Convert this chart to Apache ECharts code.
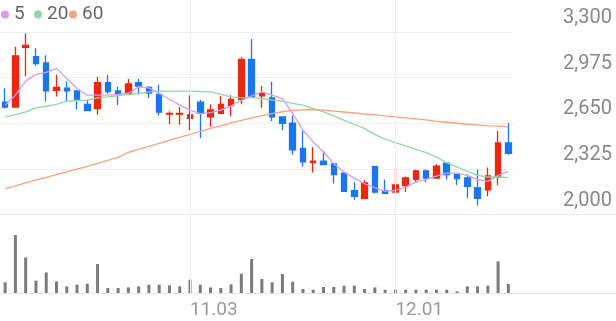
<!DOCTYPE html>
<html>
<head>
<meta charset="utf-8">
<script src="https://cdn.jsdelivr.net/npm/echarts@6/dist/echarts.min.js"></script>
<style>
html,body{margin:0;padding:0;background:#fff;}
#c{width:616px;height:321px;}
</style>
</head>
<body>
<div id="c"></div>
<script>
// ---- data ----
const dates = ['10.01','10.02','10.10','10.13','10.14','10.15','10.16','10.17','10.20','10.21',
  '10.22','10.23','10.24','10.27','10.28','10.29','10.30','10.31','11.03','11.04',
  '11.05','11.06','11.07','11.10','11.11','11.12','11.13','11.14','11.17','11.18',
  '11.19','11.20','11.21','11.24','11.25','11.26','11.27','11.28','12.01','12.02',
  '12.03','12.04','12.05','12.08','12.09','12.10','12.11','12.12','12.15','12.16'];
const shownDates = ['11.03','12.01'];
const openP  = [2800,2765,3190,3125,3080,2885,2900,2880,2785,2755,2940,2880,2860,2940,2905,2855,2715,2715,2685,2800,2695,2720,2775,2820,3105,2845,2830,2695,2650,2470,2370,2380,2360,2295,2170,2115,2340,2170,2160,2205,2250,2310,2260,2365,2285,2260,2190,2175,2265,2510];
const closeP = [2765,3130,3205,3075,2880,2905,2880,2815,2740,2940,2875,2860,2930,2915,2865,2730,2720,2720,2710,2720,2745,2785,2820,3105,2840,2860,2695,2650,2460,2375,2380,2355,2285,2165,2130,2225,2160,2150,2210,2260,2310,2260,2345,2285,2255,2200,2115,2275,2510,2435];
const lowP   = [2755,2765,2985,3060,2805,2840,2805,2750,2735,2710,2860,2780,2850,2855,2830,2705,2645,2640,2600,2545,2625,2715,2700,2785,2835,2760,2665,2600,2425,2340,2300,2350,2220,2160,2105,2115,2150,2150,2160,2160,2225,2230,2255,2250,2210,2115,2065,2130,2210,2425];
const highP  = [2900,3195,3290,3185,3135,2995,2950,2885,2820,2980,2995,2910,2965,2965,2915,2925,2735,2765,2850,2815,2785,2845,2850,3120,3250,2915,2945,2700,2705,2595,2480,2455,2365,2300,2230,2245,2345,2250,2330,2270,2320,2320,2360,2370,2290,2285,2320,2335,2595,2650];
const ma5  = [2779,2850,2950,2998,3012,3041,2969,2898,2850,2850,2850,2855,2864,2909,2902,2862,2821,2779,2743,2719,2726,2743,2774,2814,2845,2874,2850,2826,2719,2600,2517,2445,2362,2302,2259,2219,2191,2164,2171,2195,2231,2250,2274,2295,2295,2279,2250,2236,2279,2307];
const ma20 = [2695,2712,2731,2759,2771,2784,2807,2812,2814,2831,2838,2845,2855,2862,2874,2879,2879,2879,2879,2876,2874,2855,2838,2833,2833,2826,2814,2807,2791,2779,2755,2731,2702,2671,2643,2612,2571,2536,2512,2488,2464,2441,2409,2369,2338,2307,2279,2267,2267,2262];
const ma60 = [2184,2204,2225,2246,2264,2284,2304,2324,2343,2364,2386,2407,2443,2464,2486,2507,2529,2550,2571,2593,2614,2632,2652,2671,2689,2704,2719,2732,2741,2745,2748,2744,2737,2730,2723,2716,2710,2702,2695,2688,2681,2674,2664,2657,2650,2643,2638,2631,2629,2624];
const volume = [321,1740,1068,369,618,348,198,249,279,870,150,150,168,198,249,249,228,198,399,249,168,150,258,579,1020,420,321,570,339,120,99,180,180,219,219,120,168,99,99,99,99,99,99,99,51,198,198,219,951,270];
const priceTicks = {min: 2000, max: 3300, step: 325};
const maNames = ['5','20','60'];

// ---- chart ----
const RED = '#e8290c', BLUE = '#1a76ec';
const maColors = ['#d49cf2','#92d8a6','#fba27f'];
const legendLeft = [1, 34, 69];
const ohlc = dates.map((d, i) => [openP[i], closeP[i], lowP[i], highP[i]]);

const chart = echarts.init(document.getElementById('c'), null, {renderer: 'canvas'});
const plotGrid = {left: 0, right: 102.5, top: 32, height: 182.5};
const volGrid = {left: 0, right: 102.5, top: 230, bottom: 28};

const option = {
  animation: false,
  backgroundColor: '#fff',
  textStyle: {fontFamily: 'Roboto'},
  legend: maNames.map((n, k) => ({
    data: [n], left: legendLeft[k], top: 5, padding: 0, icon: 'circle', itemWidth: 8, itemHeight: 8,
    textStyle: {fontSize: 19, color: '#666', fontFamily: 'Roboto'}, selectedMode: false
  })),
  grid: [
    plotGrid,
    volGrid,
    {left: 0, right: 0, top: 32, height: 182.5},
    {left: 0, right: 0, top: 230, bottom: 28},
    {left: 0, right: 102.5, top: 0, bottom: 28}
  ],
  xAxis: [
    {type: 'category', data: dates, gridIndex: 0, boundaryGap: true,
      axisLine: {show: false}, axisTick: {show: false}, axisLabel: {show: false}, splitLine: {show: false}},
    {type: 'category', data: dates, gridIndex: 1, boundaryGap: true,
      axisLine: {show: false}, axisTick: {show: false}, splitLine: {show: false},
      axisLabel: {show: true, interval: (i, v) => shownDates.indexOf(v) >= 0, align: 'left',
        fontSize: 19, color: '#999', margin: 8, fontFamily: 'Roboto'}},
    {type: 'value', gridIndex: 2, show: true, axisLine: {show: true, lineStyle: {color: '#ebebeb', width: 1}},
      axisTick: {show: false}, axisLabel: {show: false}, splitLine: {show: false}},
    {type: 'value', gridIndex: 3, show: true, axisLine: {show: true, lineStyle: {color: '#e6e6e6', width: 1}},
      axisTick: {show: false}, axisLabel: {show: false}, splitLine: {show: false}},
    {type: 'category', data: dates, gridIndex: 4, boundaryGap: true, show: false}
  ],
  yAxis: [
    {type: 'value', gridIndex: 0, position: 'right', min: priceTicks.min, max: priceTicks.max, interval: priceTicks.step,
      axisLine: {show: false}, axisTick: {show: false},
      splitLine: {show: true, lineStyle: {color: '#efefef', width: 1}},
      axisLabel: {show: true, align: 'right', verticalAlign: 'bottom', margin: 98.5, padding: [0, 0, 4, 0],
        fontSize: 20, color: '#888', fontFamily: 'Roboto',
        formatter: v => v.toLocaleString('en-US')}},
    {type: 'value', gridIndex: 1, min: 0, max: 1890, show: false, splitLine: {show: false}},
    {type: 'value', gridIndex: 2, show: false, splitLine: {show: false}},
    {type: 'value', gridIndex: 3, show: false, splitLine: {show: false}},
    {type: 'value', gridIndex: 4, show: false, splitLine: {show: false}}
  ],
  series: [
    {type: 'line', xAxisIndex: 4, yAxisIndex: 4, data: [], silent: true, z: 0,
      markLine: {silent: true, symbol: 'none', label: {show: false},
        lineStyle: {color: '#efefef', type: 'solid', width: 1},
        data: shownDates.map(d => ({xAxis: d}))}},
    {type: 'candlestick', name: 'price', xAxisIndex: 0, yAxisIndex: 0, data: ohlc, barWidth: 6, z: 3,
      itemStyle: {color: RED, color0: BLUE, borderColor: RED, borderColor0: BLUE, borderWidth: 1.3}},
    {type: 'line', name: maNames[0], xAxisIndex: 0, yAxisIndex: 0, data: ma5, showSymbol: false, symbol: 'none', z: 4,
      lineStyle: {color: maColors[0], width: 1.3}, itemStyle: {color: maColors[0]}},
    {type: 'line', name: maNames[1], xAxisIndex: 0, yAxisIndex: 0, data: ma20, showSymbol: false, symbol: 'none', z: 4,
      lineStyle: {color: maColors[1], width: 1.3}, itemStyle: {color: maColors[1]}},
    {type: 'line', name: maNames[2], xAxisIndex: 0, yAxisIndex: 0, data: ma60, showSymbol: false, symbol: 'none', z: 4,
      lineStyle: {color: maColors[2], width: 1.3}, itemStyle: {color: maColors[2]}},
    {type: 'bar', name: 'volume', xAxisIndex: 1, yAxisIndex: 1, data: volume, barWidth: 3,
      itemStyle: {color: '#7b7b7b'}}
  ]
};
chart.setOption(option);
</script>
</body>
</html>
